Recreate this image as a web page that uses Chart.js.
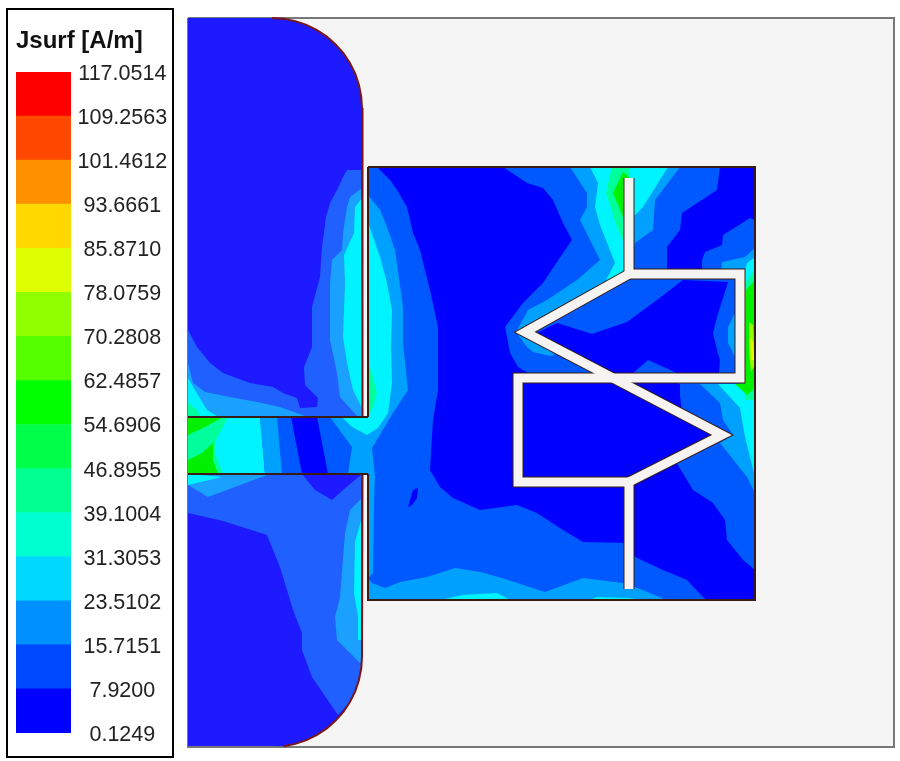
<!DOCTYPE html>
<html>
<head>
<meta charset="utf-8">
<title>Jsurf [A/m]</title>
<script src="https://cdn.jsdelivr.net/npm/chart.js@4/dist/chart.umd.min.js"></script>
<style>
  html, body { margin: 0; padding: 0; background: #fff; }
  #page { position: relative; width: 900px; height: 761px; overflow: hidden; }
  #legendBox { position: absolute; left: 6px; top: 8px; width: 164px; height: 746px; border: 2px solid #000; }
  #legendWrap { position: absolute; left: 0; top: 0; width: 175px; height: 761px; }
  #fieldWrap { position: absolute; left: 180px; top: 0; width: 720px; height: 761px; }
</style>
</head>
<body>
<div id="page">
  <div id="legendBox"></div>
  <div id="legendWrap"><canvas id="legendChart"></canvas></div>
  <div id="fieldWrap"><canvas id="fieldChart"></canvas></div>
</div>
<script>
// ---- colour scale ----
const legendTitle = 'Jsurf [A/m]';
const legendTicks = [0.1249, 7.9200, 15.7151, 23.5102, 31.3053, 39.1004, 46.8955, 54.6906, 62.4857,
  70.2808, 78.0759, 85.8710, 93.6661, 101.4612, 109.2563, 117.0514];
const legendLabels = ['0.1249', '7.9200', '15.7151', '23.5102', '31.3053', '39.1004', '46.8955', '54.6906', '62.4857',
  '70.2808', '78.0759', '85.8710', '93.6661', '101.4612', '109.2563', '117.0514'];
const legendColors = ['#0000ff', '#0048ff', '#0090ff', '#00d8ff', '#00ffd0', '#00ff90', '#00ff48', '#00ff00',
  '#55ff00', '#90ff00', '#ddff00', '#ffd800', '#ff9000', '#ff4800', '#ff0000'];
// the labels sit a touch below their band edge in the picture
const labelNudge = 0.35;

// ---- field geometry (plot units) ----
const frame = [[188,18],[894,18],[894,747],[188,747],[188,18]];
const upperArc = [[272,18],[283.7,18.8],[295.3,21.1],[306.4,24.9],[317,30.1],[326.8,36.6],[335.6,44.4],[343.4,53.2],[349.9,63],[355.2,73.6],[358.9,84.7],[361.2,96.3],[362,108]];
const lowerArc = [[362,657],[361.2,668.7],[358.9,680.3],[355.2,691.4],[349.9,702],[343.4,711.8],[335.6,720.6],[326.8,728.4],[317,734.9],[306.4,740.1],[295.3,743.9],[283.7,746.2]];
const upperPatch = [[188,18],...upperArc,[362,417],[188,417]];
const lowerPatch = [[188,474],[362,474],...lowerArc,[272,746],[188,746]];
const feed = [[188,417],[368,417],[368,474],[188,474]];
const square = [[368,167],[755,167],[755,600],[368,600]];

// upper patch contours
const upperBand1 = [[347,170],[362,170],[362,417],[188,417],[188,330],[197,347],[210,363],[223,373],[250,383],[273,387],[283,393],[297,398],[300,408],[317,407],[318,398],[305,385],[304,367],[312,347],[312,307],[320,277],[322,247],[326,217],[330,203],[337,190],[343,177]];
const upperBand2 = [[362,188],[350,197],[347,207],[343,233],[342,250],[332,260],[330,283],[330,340],[337,373],[340,397],[357,416],[362,416]];
const upperCyan = [[362,198],[355,207],[354,233],[344,255],[345,283],[343,337],[347,363],[353,390],[362,408]];
const upperLeftBand2 = [[188,363],[193,383],[205,392],[230,397],[257,402],[280,407],[297,413],[305,416],[188,416]];
const upperLeftCyan = [[188,378],[195,390],[207,410],[217,416],[188,416]];
const upperLeftFoam = [[188,403],[197,410],[200,416],[188,416]];

// feed contours
const feedCyan = [[188,417],[260,417],[265,474],[188,474]];
const feedBand2Left = [[260,417],[277,417],[282,474],[265,474]];
const feedBlue = [[291,417],[317,417],[328,474],[302,474]];
const feedBand2Right = [[330,417],[368,417],[368,474],[348,474],[352,447]];
const feedFoam = [[188,417],[228,417],[215,442],[215,453],[223,474],[188,474]];
const feedGreenTop = [[188,417],[223,417],[205,427],[188,435]];
const feedGreenLow = [[188,460],[202,453],[213,443],[213,460],[218,474],[188,474]];

// lower patch contours
const lowerBand1 = [[188,474],[362,474],[362,657],[361.2,668.7],[358.9,680.3],[355.2,691.4],[349.9,702],[338,715],[312,677],[302,650],[302,633],[293,610],[280,567],[267,535],[223,521],[188,513]];
const lowerNotch = [[302,474],[315,490],[332,500],[343,490],[362,474]];
const lowerLeftBand2 = [[188,474],[270,474],[208,497],[188,485]];
const lowerLeftCyan = [[188,474],[222,477],[188,485]];
const lowerBand2 = [[362,498],[350,510],[345,533],[340,597],[335,617],[337,640],[360,663],[362,660]];
const lowerCyan = [[362,517],[355,542],[354,593],[358,617],[358,640],[362,640]];

// square patch contours
const centreBlue = [[377,167],[503,167],[527,183],[543,188],[553,200],[563,223],[572,240],[563,253],[543,283],[523,303],[505,327],[510,353],[518,367],[528,373],[640,373],[680,384],[680,395],[682,414],[722,435],[673,457],[693,490],[713,503],[725,520],[727,540],[743,560],[755,570],[755,600],[707,600],[703,597],[687,580],[663,570],[635,557],[629,543],[583,542],[563,530],[537,513],[517,505],[480,510],[453,498],[440,487],[430,470],[433,420],[438,390],[438,327],[430,290],[420,250],[413,233],[407,207],[397,190],[390,180]];
const topRightBlue = [[720,167],[717,190],[682,213],[680,230],[667,247],[667,272],[702,272],[702,260],[705,252],[722,245],[723,235],[750,218],[755,220],[755,167]];
const loopBlue = [[537,333],[557,323],[592,334],[627,322],[657,300],[683,280],[728,282],[717,317],[713,333],[717,350],[720,360],[719,373],[677,373],[648,360],[633,373],[613,373]];
const loopBand2 = [[735,313],[728,327],[728,343],[735,357]];
const smallBlue = [[408,507],[413,490],[418,488],[417,498],[412,505]];
const leftBand2 = [[368,195],[380,210],[387,227],[395,250],[403,307],[403,343],[408,390],[393,413],[372,448],[375,477],[374,503],[373,573],[368,578]];
const bottomBand2 = [[368,578],[372,583],[385,588],[400,582],[427,577],[455,568],[480,572],[502,578],[545,592],[583,578],[623,583],[635,587],[662,598],[664,600],[368,600]];
const bottomCyanLeft = [[440,600],[463,595],[497,593],[510,600]];
const bottomCyanRight = [[590,600],[597,597],[630,598],[640,600]];
const leftCyan = [[368,222],[380,257],[387,283],[392,310],[391,347],[392,383],[388,413],[378,428],[367,435],[352,427],[343,418],[368,418]];
const leftFoam = [[368,362],[372,373],[377,393],[373,407],[369,415]];
const topBand2 = [[570,167],[587,193],[587,207],[580,220],[600,260],[577,280],[547,300],[528,310],[516,332],[527,347],[533,352],[550,356],[560,352],[525,332],[629,274],[635,243],[653,230],[655,200],[680,167]];
const topCyan = [[590,167],[598,183],[595,207],[600,225],[615,263],[606,280],[629,274],[634,216],[643,207],[668,167]];
const topFoam = [[612,167],[606,193],[617,227],[625,245],[630,178],[630,167]];
const topGreen = [[623,172],[613,193],[624,219],[630,178]];
const rightBand2 = [[721,272],[722,262],[745,257],[755,248],[755,272]];
const rightCyan = [[745,270],[747,263],[755,257],[755,400],[745,400]];
const rightFoam = [[745,283],[755,270],[755,400],[745,400]];
const rightGreen = [[746,290],[755,280],[755,384],[753,390],[747,395],[735,384],[745,383]];
const rightLime = [[749,322],[753,325],[755,365],[751,372],[749,352]];
const rightYellow = [[750,338],[753,342],[754,360],[751,360]];
const lowerRightBand2 = [[700,384],[720,403],[723,420],[733,435],[720,443],[747,477],[755,493],[755,384]];
const lowerRightCyan = [[718,384],[740,408],[745,437],[755,477],[755,384]];

// slot centre lines and outlines
const slotMain = [[629,178],[629,274],[740,274],[740,378],[518,378],[518,482],[629,482],[629,589]];
const slotZigzag = [[629,274],[525,332],[722,435],[629,482]];
const squareEdge = [[368,167],[755,167],[755,600],[368,600],[368,474]];
const squareEdgeUpper = [[368,167],[368,417]];
const feedEdgeTop = [[188,417],[368,417]];
const feedEdgeBottom = [[188,474],[368,474]];
const patchEdgeUpper = [...upperArc,[362.5,417]];
const patchEdgeLower = [[362.5,474],...lowerArc];

// ---- field colours ----
const BG = '#f5f5f5', SLOT = '#f5f4f2', DARK = '#3a1c14', RED = '#7a1518';
const FIELD0 = '#0000ff', FIELD1 = '#0058ff', FIELD2 = '#00a0ff', CYAN = '#00f4ff', FOAM = '#00ff9c', GREEN = '#00f000';
const PATCH0 = '#1e1aff', PATCH1 = '#1f60ff', PATCH2 = '#1aa0ff';

// painted in this order, back to front
const fills = [
  [upperPatch, PATCH0], [lowerPatch, PATCH0], [feed, FIELD1], [square, FIELD1],
  [upperBand1, PATCH1], [upperBand2, PATCH2], [upperCyan, CYAN],
  [upperLeftBand2, PATCH2], [upperLeftCyan, CYAN], [upperLeftFoam, FOAM],
  [lowerBand1, PATCH1], [lowerNotch, PATCH0], [lowerLeftBand2, PATCH2], [lowerLeftCyan, CYAN],
  [lowerBand2, PATCH2], [lowerCyan, CYAN],
  [centreBlue, FIELD0], [topRightBlue, FIELD0], [loopBlue, FIELD0], [loopBand2, FIELD2], [smallBlue, FIELD0],
  [leftBand2, FIELD2], [bottomBand2, FIELD2], [bottomCyanLeft, CYAN], [bottomCyanRight, CYAN],
  [feedCyan, CYAN], [feedBand2Left, FIELD2], [feedBlue, FIELD0], [feedBand2Right, FIELD2],
  [feedFoam, FOAM], [feedGreenTop, GREEN], [feedGreenLow, GREEN],
  [leftCyan, CYAN], [leftFoam, FOAM],
  [topBand2, FIELD2], [topCyan, CYAN], [topFoam, FOAM], [topGreen, GREEN],
  [rightBand2, FIELD2], [lowerRightBand2, FIELD2], [lowerRightCyan, CYAN], [rightCyan, CYAN], [rightFoam, FOAM],
  [rightGreen, GREEN], [rightLime, '#90ff00'], [rightYellow, '#ddff00'],
];
const strokes = [
  [patchEdgeUpper, RED, 2], [patchEdgeLower, RED, 2],
  [squareEdge, DARK, 2], [squareEdgeUpper, DARK, 2], [feedEdgeTop, DARK, 2], [feedEdgeBottom, DARK, 2],
  [slotMain, DARK, 11], [slotZigzag, DARK, 11], [slotMain, SLOT, 9], [slotZigzag, SLOT, 9],
];

const toPoints = pts => pts.map(p => ({ x: p[0], y: p[1] }));

// first dataset is drawn last in Chart.js, so order counts down
const datasets = [];
datasets.push({ data: toPoints(frame), showLine: true, pointRadius: 0, borderWidth: 2, borderColor: '#777', backgroundColor: BG, fill: 'shape' });
fills.forEach(f => datasets.push({ data: toPoints(f[0]), showLine: true, pointRadius: 0, borderWidth: 0, backgroundColor: f[1], fill: 'shape' }));
strokes.forEach(s => datasets.push({ data: toPoints(s[0]), showLine: true, pointRadius: 0, borderWidth: s[2], borderColor: s[1], borderJoinStyle: 'miter', borderCapStyle: 'butt', fill: false }));
datasets.forEach((d, i) => { d.order = datasets.length - i; d.clip = false; });

new Chart(document.getElementById('fieldChart'), {
  type: 'scatter',
  data: { datasets },
  options: {
    responsive: true, maintainAspectRatio: false, animation: false,
    layout: { padding: 0 },
    plugins: { legend: { display: false }, tooltip: { enabled: false } },
    scales: {
      x: { type: 'linear', min: 180, max: 900, display: false },
      y: { type: 'linear', min: 0, max: 761, reverse: true, display: false }
    }
  }
});

// ---- colour bar ----
new Chart(document.getElementById('legendChart'), {
  type: 'bar',
  data: {
    labels: [legendTitle],
    datasets: legendColors.map((c, i) => ({
      data: [[legendTicks[i], legendTicks[i + 1]]],
      backgroundColor: c, borderWidth: 0, grouped: false,
      categoryPercentage: 1, barPercentage: 1
    }))
  },
  options: {
    responsive: true, maintainAspectRatio: false, animation: false,
    layout: { padding: { left: 16, right: 0, top: 0, bottom: 28 } },
    plugins: {
      legend: { display: false }, tooltip: { enabled: false },
      title: {
        display: true, text: legendTitle, align: 'start', color: '#111',
        font: { family: '"Liberation Sans", Arial, sans-serif', size: 24, weight: 'bold' },
        padding: { top: 27, bottom: 16.2 }
      }
    },
    scales: {
      x: { display: false },
      y: {
        position: 'right', min: legendTicks[0], max: legendTicks[legendTicks.length - 1],
        grid: { display: false, drawTicks: false }, border: { display: false },
        afterBuildTicks: s => { s.ticks = legendTicks.map(v => ({ value: v - labelNudge })); },
        afterFit: s => { s.width = 104; },
        ticks: {
          autoSkip: false, crossAlign: 'center', padding: 6.5, color: '#222',
          font: { family: '"Liberation Sans", Arial, sans-serif', size: 21.5 },
          callback: (v, i) => legendLabels[i]
        }
      }
    }
  }
});
</script>
</body>
</html>
